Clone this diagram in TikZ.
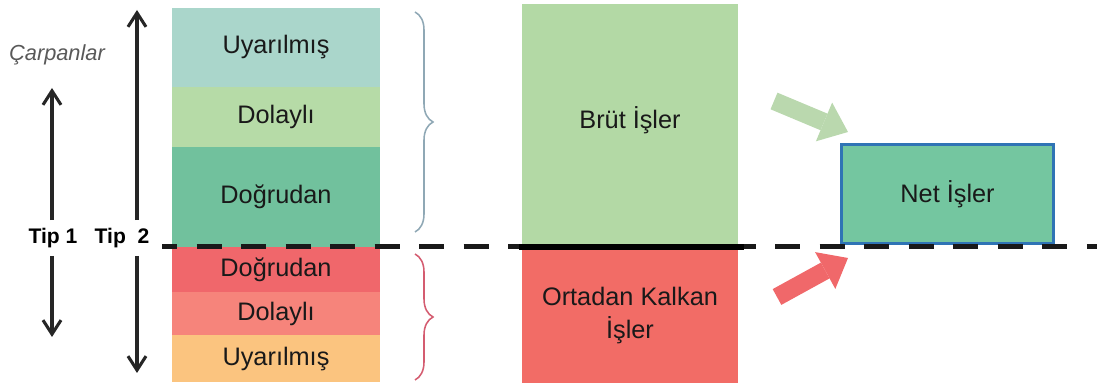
\documentclass[tikz,border=0pt]{standalone}
\usepackage{fontspec}
\setmainfont{Liberation Sans}
\usepackage{xcolor}
\usetikzlibrary{
  arrows.meta,
  positioning,
  decorations.pathreplacing
}
\definecolor{uyaTop}{RGB}{170, 214, 203}
\definecolor{dolTop}{RGB}{182, 219, 167}
\definecolor{dogTop}{RGB}{113, 193, 157}
\definecolor{dogBot}{RGB}{240, 103, 107}
\definecolor{dolBot}{RGB}{246, 132, 123}
\definecolor{uyaBot}{RGB}{251, 196, 127}
\definecolor{brutfill}{RGB}{179, 217, 165}
\definecolor{kalkanfill}{RGB}{242, 108, 102}
\definecolor{netfill}{RGB}{116, 198, 160}
\definecolor{netblue}{RGB}{47, 116, 181}
\definecolor{arrgreen}{RGB}{186, 216, 174}
\definecolor{arrred}{RGB}{240, 104, 106}
\definecolor{braceTop}{RGB}{143, 168, 181}
\definecolor{braceBot}{RGB}{212, 92, 112}

\begin{document}
\begin{tikzpicture}[x=0.025cm, y=0.025cm,
  layer/.style={inner sep=0pt, outer sep=0pt, minimum width=5.2cm,
                font=\fontsize{18}{23.5}\selectfont, text=black!90, align=center},
  col/.style={layer, minimum width=5.4cm},
  tiplabel/.style={font=\fontsize{15}{18}\selectfont\bfseries, inner sep=0pt,
                   minimum height=0.875cm},
  vert/.style={-{Straight Barb[length=3.5mm, width=4.5mm]}, line width=2.2pt,
               draw=black!85},
  fat/.style={line width=0.45cm,
              -{Triangle[length=0.65cm, width=1.05cm, line width=0pt]}},
  curly/.style={decorate, decoration={brace, amplitude=0.45cm}, line width=1.1pt},
  cutline/.style={line width=0.125cm, draw=black!90,
                  dash pattern=on 0.625cm off 0.4875cm, dash phase=0.25cm}
]
\useasboundingbox (0,0) rectangle (1097,385);

% multiplier stack
\node[layer, fill=uyaTop, minimum height=1.975cm, anchor=north] (u1) at (276,377) {Uyarılmış};
\node[layer, fill=dolTop, minimum height=1.5cm, below=0pt of u1] (d1) {Dolaylı};
\node[layer, fill=dogTop, minimum height=2.5cm, below=0pt of d1] (g1) {Doğrudan};
\node[layer, fill=dogBot, minimum height=1.125cm, below=0pt of g1] (g2) {Doğrudan};
\node[layer, fill=dolBot, minimum height=1.075cm, below=0pt of g2] (d2) {Dolaylı};
\node[layer, fill=uyaBot, minimum height=1.175cm, below=0pt of d2] (u2) {Uyarılmış};

% gross / lost jobs
\node[col, fill=brutfill, minimum height=6.075cm, text depth=0.38cm,
      anchor=north] (brut) at (630,381) {Brüt İşler};
\node[col, fill=kalkanfill, minimum height=3.4cm, below=0pt of brut] (kalkan) {Ortadan Kalkan\\İşler};

% net result
\node[col, fill=netfill, draw=netblue, line width=2.2pt, minimum width=5.3cm,
      minimum height=2.475cm, anchor=south west] (net) at (841.5,141.5) {Net İşler};

\draw[cutline] (162,138) -- (1097,138);
\draw[line width=0.15cm] ([xshift=-2]brut.south west) -- ([xshift=4]brut.south east);

\draw[curly, draw=braceTop] (415,373) -- (415,153);
\draw[curly, draw=braceBot] (415,131) -- (415,5);

% type arrows
\node[font=\fontsize{15.5}{18}\selectfont\itshape, text=black!65] (carp) at (57,330) {Çarpanlar};
\node[tiplabel] (tip1) at (53,147) {Tip 1};
\node[tiplabel] (tip2) at (122,147) {Tip~~2};
\coordinate (t1up) at (52,297);
\coordinate (t1dn) at (52,48);
\coordinate (t2up) at (137,375);
\coordinate (t2dn) at (137,12);
\draw[vert] (tip1.north -| t1up) -- (t1up);
\draw[vert] (tip1.south -| t1dn) -- (t1dn);
\draw[vert] (tip2.north -| t2up) -- (t2up);
\draw[vert] (tip2.south -| t2dn) -- (t2dn);

\coordinate (ga) at (774,284);
\coordinate (gb) at (848,253);
\coordinate (ra) at (777,88);
\coordinate (rb) at (848,127);
\draw[fat, draw=arrgreen] (ga) -- (gb);
\draw[fat, draw=arrred] (ra) -- (rb);
\end{tikzpicture}
\end{document}
